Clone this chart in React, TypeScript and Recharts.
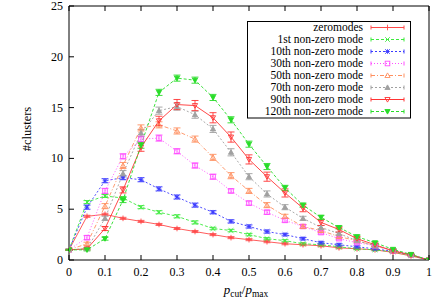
import React from 'react';
import { LineChart, Line, XAxis, YAxis, ErrorBar } from 'recharts';

const xs = [0, 0.05, 0.1, 0.15, 0.2, 0.25, 0.3, 0.35, 0.4, 0.45, 0.5, 0.55, 0.6, 0.65, 0.7, 0.75, 0.8, 0.85, 0.9, 0.95, 1];
const xTicks = [0, 0.1, 0.2, 0.3, 0.4, 0.5, 0.6, 0.7, 0.8, 0.9, 1];
const yTicks = [0, 5, 10, 15, 20, 25];

const zeroModes = [1.0, 4.3, 4.5, 4.1, 3.8, 3.5, 3.1, 2.8, 2.5, 2.2, 2.0, 1.8, 1.6, 1.5, 1.4, 1.2, 1.1, 1.0, 0.75, 0.4, 0];
const mode1 = [1.0, 5.7, 6.3, 6.1, 5.2, 4.7, 4.3, 3.7, 3.1, 2.9, 2.5, 2.1, 1.9, 1.6, 1.5, 1.3, 1.1, 1.0, 0.8, 0.45, 0];
const mode10 = [1.0, 5.2, 7.8, 8.1, 7.9, 7.0, 6.2, 5.4, 4.7, 3.8, 3.3, 2.8, 2.5, 2.1, 1.7, 1.5, 1.3, 1.1, 0.85, 0.5, 0];
const mode30 = [1.0, 2.2, 6.8, 10.2, 11.9, 12.0, 10.7, 9.3, 8.2, 6.8, 5.6, 4.7, 3.9, 3.3, 2.7, 2.1, 1.7, 1.4, 0.9, 0.5, 0];
const mode50 = [1.0, 1.6, 5.3, 9.3, 13.0, 13.3, 12.7, 11.9, 10.1, 8.3, 6.8, 5.4, 4.3, 3.3, 2.9, 2.3, 1.9, 1.4, 0.9, 0.5, 0];
const mode70 = [1.0, 1.1, 4.1, 8.5, 12.5, 14.7, 15.1, 14.3, 12.9, 10.6, 8.2, 6.5, 5.2, 4.1, 3.2, 2.6, 1.9, 1.4, 0.95, 0.5, 0];
const mode90 = [1.0, 1.1, 3.1, 6.9, 11.1, 13.7, 15.3, 15.2, 14.0, 12.1, 9.9, 8.2, 6.6, 5.1, 3.7, 3.0, 2.1, 1.5, 0.9, 0.5, 0];
const mode120 = [1.0, 1.0, 2.1, 5.9, 11.3, 16.5, 17.9, 17.7, 16.0, 13.8, 11.4, 9.2, 7.1, 5.4, 4.2, 3.2, 2.3, 1.7, 1.05, 0.55, 0];

const errZero = [0.05, 0.1, 0.1, 0.1, 0.1, 0.1, 0.1, 0.1, 0.1, 0.1, 0.1, 0.1, 0.1, 0.1, 0.1, 0.1, 0.08, 0.08, 0.06, 0.05, 0];
const err1 = [0.05, 0.15, 0.15, 0.15, 0.15, 0.15, 0.15, 0.15, 0.12, 0.12, 0.12, 0.1, 0.1, 0.1, 0.1, 0.1, 0.08, 0.08, 0.06, 0.05, 0];
const err10 = [0.05, 0.2, 0.2, 0.2, 0.2, 0.2, 0.2, 0.2, 0.15, 0.15, 0.15, 0.15, 0.12, 0.12, 0.1, 0.1, 0.1, 0.08, 0.06, 0.05, 0];
const err30 = [0.05, 0.2, 0.25, 0.25, 0.3, 0.3, 0.25, 0.25, 0.25, 0.2, 0.2, 0.2, 0.18, 0.15, 0.15, 0.12, 0.1, 0.1, 0.08, 0.05, 0];
const err50 = [0.05, 0.15, 0.25, 0.3, 0.3, 0.3, 0.3, 0.3, 0.3, 0.3, 0.25, 0.25, 0.2, 0.2, 0.18, 0.15, 0.12, 0.1, 0.08, 0.05, 0];
const err70 = [0.05, 0.1, 0.2, 0.3, 0.35, 0.35, 0.35, 0.35, 0.35, 0.35, 0.3, 0.3, 0.25, 0.2, 0.2, 0.15, 0.15, 0.1, 0.08, 0.05, 0];
const err90 = [0.05, 0.1, 0.2, 0.3, 0.4, 0.45, 0.5, 0.5, 0.5, 0.5, 0.45, 0.45, 0.4, 0.35, 0.3, 0.25, 0.2, 0.15, 0.1, 0.05, 0];
const err120 = [0.05, 0.1, 0.15, 0.25, 0.3, 0.3, 0.3, 0.3, 0.3, 0.3, 0.3, 0.3, 0.25, 0.2, 0.2, 0.15, 0.15, 0.1, 0.08, 0.05, 0];

const seriesNames = [
  'zeromodes',
  '1st non-zero mode',
  '10th non-zero mode',
  '30th non-zero mode',
  '50th non-zero mode',
  '70th non-zero mode',
  '90th non-zero mode',
  '120th non-zero mode',
];

type Shape = 'plus' | 'cross' | 'star' | 'square' | 'triUp' | 'triUpFill' | 'triDown' | 'triDownFill';

const seriesDefs: { key: string; values: number[]; errs: number[]; color: string; dash?: string; shape: Shape }[] = [
  { key: 's0', values: zeroModes, errs: errZero, color: '#ff4a4a', shape: 'plus' },
  { key: 's1', values: mode1, errs: err1, color: '#3cea3c', dash: '3 2', shape: 'cross' },
  { key: 's2', values: mode10, errs: err10, color: '#3a3aff', dash: '2 2', shape: 'star' },
  { key: 's3', values: mode30, errs: err30, color: '#ff4cff', dash: '1 2', shape: 'square' },
  { key: 's4', values: mode50, errs: err50, color: '#ff9060', dash: '4 2 1 2', shape: 'triUp' },
  { key: 's5', values: mode70, errs: err70, color: '#a0a0a0', dash: '2 2', shape: 'triUpFill' },
  { key: 's6', values: mode90, errs: err90, color: '#ff3434', shape: 'triDown' },
  { key: 's7', values: mode120, errs: err120, color: '#28dc28', dash: '3 2', shape: 'triDownFill' },
];

const data = xs.map((x, i) => {
  const row: Record<string, number> = { x };
  seriesDefs.forEach((s) => {
    row[s.key] = s.values[i];
    row[s.key + 'e'] = s.errs[i];
  });
  return row;
});

function MarkerGlyph({ shape, cx, cy, color }: { shape: Shape; cx: number; cy: number; color: string }) {
  const r = 2.3;
  switch (shape) {
    case 'plus':
      return (
        <g stroke={color} strokeWidth={0.9}>
          <line x1={cx - r - 0.5} y1={cy} x2={cx + r + 0.5} y2={cy} />
          <line x1={cx} y1={cy - r - 0.5} x2={cx} y2={cy + r + 0.5} />
        </g>
      );
    case 'cross':
      return (
        <g stroke={color} strokeWidth={0.9}>
          <line x1={cx - r} y1={cy - r} x2={cx + r} y2={cy + r} />
          <line x1={cx - r} y1={cy + r} x2={cx + r} y2={cy - r} />
        </g>
      );
    case 'star':
      return (
        <g stroke={color} strokeWidth={0.9}>
          <line x1={cx - r} y1={cy - r} x2={cx + r} y2={cy + r} />
          <line x1={cx - r} y1={cy + r} x2={cx + r} y2={cy - r} />
          <line x1={cx - r} y1={cy} x2={cx + r} y2={cy} />
          <line x1={cx} y1={cy - r} x2={cx} y2={cy + r} />
        </g>
      );
    case 'square':
      return <rect x={cx - r} y={cy - r} width={2 * r} height={2 * r} fill="none" stroke={color} strokeWidth={0.9} />;
    case 'triUp':
    case 'triUpFill':
      return (
        <polygon
          points={`${cx},${cy - r - 0.3} ${cx - r - 0.3},${cy + r - 0.3} ${cx + r + 0.3},${cy + r - 0.3}`}
          fill={shape === 'triUpFill' ? color : 'none'}
          stroke={color}
          strokeWidth={0.9}
        />
      );
    case 'triDown':
    case 'triDownFill':
      return (
        <polygon
          points={`${cx},${cy + r + 0.3} ${cx - r - 0.3},${cy - r + 0.3} ${cx + r + 0.3},${cy - r + 0.3}`}
          fill={shape === 'triDownFill' ? color : 'none'}
          stroke={color}
          strokeWidth={0.9}
        />
      );
  }
  return null;
}

const FONT = '"Liberation Serif", "DejaVu Serif", serif';
const TICK_LEN = 5;
const textStyle: React.CSSProperties = { fontFamily: FONT };

function BottomTick(props: any) {
  const { x, y, payload } = props;
  return (
    <g>
      <line x1={x} y1={y} x2={x} y2={y - TICK_LEN} stroke="#000" strokeWidth={1} />
      <text x={x} y={y + 16} textAnchor="middle" style={textStyle} fontSize={12} fill="#000">
        {String(payload.value)}
      </text>
    </g>
  );
}

function TopTick(props: any) {
  const { x, y } = props;
  return <line x1={x} y1={y} x2={x} y2={y + TICK_LEN} stroke="#000" strokeWidth={1} />;
}

function LeftTick(props: any) {
  const { x, y, payload } = props;
  return (
    <g>
      <line x1={x} y1={y} x2={x + TICK_LEN} y2={y} stroke="#000" strokeWidth={1} />
      <text x={x - 6} y={y + 4} textAnchor="end" style={textStyle} fontSize={12} fill="#000">
        {String(payload.value)}
      </text>
    </g>
  );
}

function RightTick(props: any) {
  const { x, y } = props;
  return <line x1={x} y1={y} x2={x - TICK_LEN} y2={y} stroke="#000" strokeWidth={1} />;
}

function Legend() {
  const rowH = 12;
  return (
    <svg width={436} height={298} style={{ position: 'absolute', left: 0, top: 0, pointerEvents: 'none' }}>
      <rect x={247.5} y={21.5} width={163} height={96.5} fill="#fff" stroke="#000" strokeWidth={1} />
      {seriesDefs.map((s, i) => {
        const cy = 27.5 + i * rowH;
        return (
          <g key={s.key}>
            <text x={363} y={cy + 3.6} textAnchor="end" style={textStyle} fontSize={11.5} fill="#000">
              {seriesNames[i]}
            </text>
            <line x1={371} y1={cy} x2={404} y2={cy} stroke={s.color} strokeWidth={1} strokeDasharray={s.dash} />
            <line x1={371} y1={cy - 2} x2={371} y2={cy + 2} stroke={s.color} strokeWidth={1} />
            <line x1={404} y1={cy - 2} x2={404} y2={cy + 2} stroke={s.color} strokeWidth={1} />
            <MarkerGlyph shape={s.shape} cx={387.5} cy={cy} color={s.color} />
          </g>
        );
      })}
      <text x={246} y={294} textAnchor="middle" style={textStyle} fontSize={13} fill="#000">
        <tspan fontStyle="italic">p</tspan>
        <tspan fontSize={9.5} dy={2.5}>cut</tspan>
        <tspan dy={-2.5}>/</tspan>
        <tspan fontStyle="italic">p</tspan>
        <tspan fontSize={9.5} dy={2.5}>max</tspan>
      </text>
      <text
        x={31}
        y={129}
        textAnchor="middle"
        style={textStyle}
        fontSize={12.5}
        fill="#000"
        transform="rotate(-90 31 129)"
      >
        #clusters
      </text>
    </svg>
  );
}

export default function App() {
  return (
    <div style={{ position: 'absolute', left: 0, top: 0, width: 436, height: 298, background: '#fff' }}>
      <LineChart width={436} height={298} data={data} margin={{ top: 0, right: 0, bottom: 0, left: 0 }}>
        <XAxis
          xAxisId="b"
          dataKey="x"
          type="number"
          domain={[0, 1]}
          ticks={xTicks}
          orientation="bottom"
          height={38}
          tickSize={0}
          tickMargin={0}
          tickLine={false}
          axisLine={{ stroke: '#000', strokeWidth: 1 }}
          tick={<BottomTick />}
          interval={0}
          allowDataOverflow
        />
        <XAxis
          xAxisId="t"
          dataKey="x"
          type="number"
          domain={[0, 1]}
          ticks={xTicks}
          orientation="top"
          height={6}
          tickSize={0}
          tickMargin={0}
          tickLine={false}
          axisLine={{ stroke: '#000', strokeWidth: 1 }}
          tick={<TopTick />}
          interval={0}
        />
        <YAxis
          yAxisId="l"
          type="number"
          domain={[0, 25]}
          ticks={yTicks}
          orientation="left"
          width={69}
          tickSize={0}
          tickMargin={0}
          tickLine={false}
          axisLine={{ stroke: '#000', strokeWidth: 1 }}
          tick={<LeftTick />}
          interval={0}
          allowDataOverflow
        />
        <YAxis
          yAxisId="r"
          type="number"
          domain={[0, 25]}
          ticks={yTicks}
          orientation="right"
          width={7}
          tickSize={0}
          tickMargin={0}
          tickLine={false}
          axisLine={{ stroke: '#000', strokeWidth: 1 }}
          tick={<RightTick />}
          interval={0}
        />
        {seriesDefs.map((s) => (
          <Line
            key={s.key}
            xAxisId="b"
            yAxisId="l"
            dataKey={s.key}
            stroke={s.color}
            strokeWidth={0.9}
            strokeDasharray={s.dash}
            isAnimationActive={false}
            type="linear"
            activeDot={false}
            dot={(p: any) => (
              <MarkerGlyph key={`${s.key}-${p.index}`} shape={s.shape} cx={p.cx} cy={p.cy} color={s.color} />
            )}
          >
            <ErrorBar dataKey={s.key + 'e'} width={3.5} stroke={s.color} strokeWidth={0.9} direction="y" isAnimationActive={false} />
          </Line>
        ))}
      </LineChart>
      <Legend />
    </div>
  );
}
